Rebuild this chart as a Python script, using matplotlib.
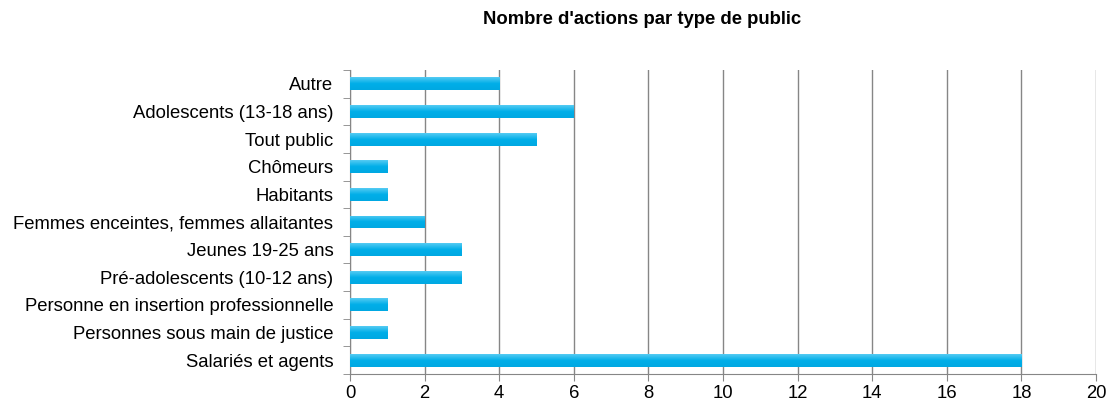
import matplotlib
matplotlib.use("Agg")
import matplotlib.pyplot as plt
import numpy as np
from matplotlib.colors import LinearSegmentedColormap

plt.rcParams['font.family'] = ['Liberation Sans', 'DejaVu Sans']

categories = ["Autre", "Adolescents (13-18 ans)", "Tout public", "Chômeurs", "Habitants",
              "Femmes enceintes, femmes allaitantes", "Jeunes 19-25 ans",
              "Pré-adolescents (10-12 ans)", "Personne en insertion professionnelle",
              "Personnes sous main de justice", "Salariés et agents"]
values = [4, 6, 5, 1, 1, 2, 3, 3, 1, 1, 18]
xticks = list(range(0, 21, 2))

fig = plt.figure(figsize=(11.07, 4.01), dpi=100)
ax = fig.add_axes([350/1107, 1-374/401, (1096-350)/1107, (374-70)/401])

y = np.arange(len(categories))
bars = ax.barh(y, values, height=0.47, color="#1ab4e8", zorder=3)

cmap = LinearSegmentedColormap.from_list("g", ["#55cbf3", "#00aee8", "#00a8e2"])
grad = np.linspace(0, 1, 64).reshape(-1, 1)
for b in bars:
    x0, y0 = b.get_x(), b.get_y()
    w, h = b.get_width(), b.get_height()
    im = ax.imshow(grad, extent=[x0, x0 + w, y0 + h, y0], cmap=cmap, aspect='auto', zorder=4,
                   origin='upper')
    im.set_clip_path(b)

fs = 13.3
ax.set_xlim(0, 20)
ax.set_ylim(len(categories) - 0.5, -0.5)
ax.set_xticks(xticks)
ax.set_xticklabels([str(t) for t in xticks], fontsize=fs)
ax.set_yticks(y)
ax.set_yticklabels(categories, fontsize=fs)
ax.set_yticks(np.arange(-0.5, len(categories), 1), minor=True)
ax.tick_params(axis='y', which='major', length=0, pad=12)
ax.tick_params(axis='y', which='minor', length=5, color="#868686", direction='out')
ax.tick_params(axis='x', length=5, color="#868686", direction='out', pad=3)
ax.grid(axis='x', color="#868686", linewidth=1, zorder=0)
for s in ['top', 'right']:
    ax.spines[s].set_visible(False)
for s in ['left', 'bottom']:
    ax.spines[s].set_color("#868686")

fig.text(642/1107, 1-20/401, "Nombre d'actions par type de public", fontsize=fs,
         fontweight='bold', ha='center', va='center')

fig.savefig("out.png", dpi=100)
